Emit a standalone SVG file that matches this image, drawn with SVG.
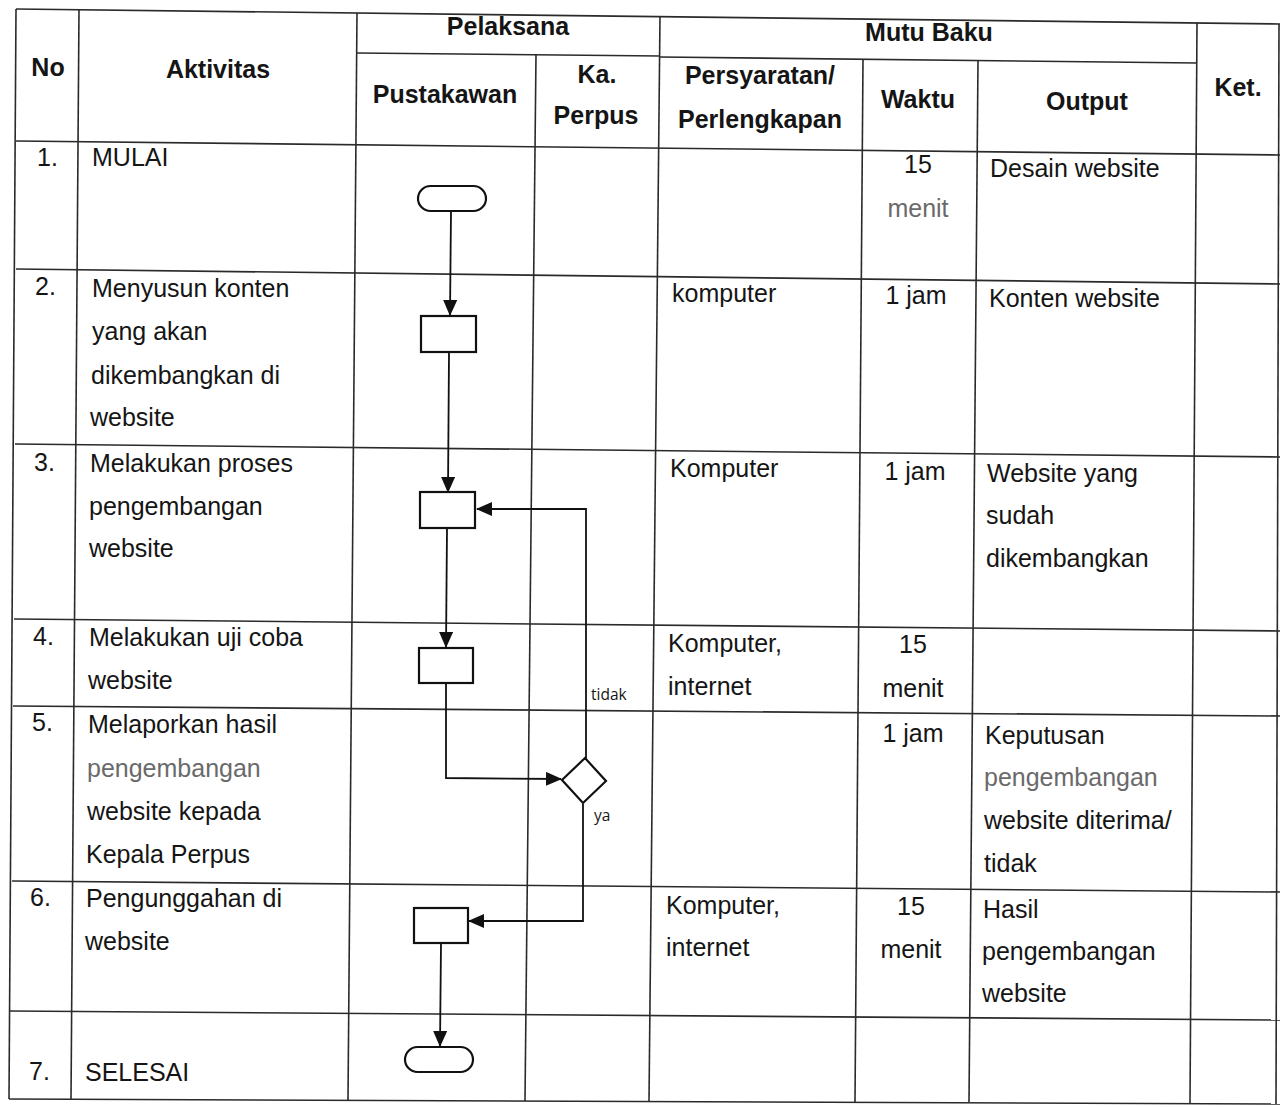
<svg xmlns="http://www.w3.org/2000/svg" width="1281" height="1107" viewBox="0 0 1281 1107">
<defs>
<style>
.grid line{stroke:#2a2a2a;stroke-width:1.6;fill:none}
.h{font-family:"Liberation Sans",Arial,sans-serif;font-size:25px;font-weight:bold;fill:#151515;text-anchor:middle}
.t{font-family:"Liberation Sans",Arial,sans-serif;font-size:25px;fill:#151515}
.c{text-anchor:middle}
.g{fill:#6a6a6a}
.lbl{font-family:"Open Sans",sans-serif;font-size:15.5px;fill:#151515}
.shape{fill:#fff;stroke:#111;stroke-width:2.2}
.conn{fill:none;stroke:#111;stroke-width:1.8}
</style>
<marker id="ah" viewBox="0 0 16 14" refX="15" refY="7" markerWidth="16" markerHeight="14" markerUnits="userSpaceOnUse" orient="auto">
<path d="M0,0 L16,7 L0,14 Z" fill="#111"/>
</marker>
</defs>
<rect width="1281" height="1107" fill="#fff"/>
<g id="table-grid" class="grid">
<line x1="16" y1="9" x2="1280" y2="24"/>
<line x1="357" y1="53" x2="660" y2="56"/>
<line x1="660" y1="57" x2="1197" y2="63"/>
<line x1="16" y1="141" x2="1280" y2="155"/>
<line x1="16" y1="269" x2="1280" y2="284"/>
<line x1="15" y1="444" x2="1280" y2="457"/>
<line x1="14" y1="619" x2="1280" y2="631"/>
<line x1="13" y1="706" x2="1280" y2="716"/>
<line x1="12" y1="881" x2="1280" y2="892"/>
<line x1="10" y1="1011" x2="1280" y2="1020"/>
<line x1="9" y1="1099" x2="1280" y2="1104"/>
<line x1="16" y1="9" x2="9" y2="1099"/>
<line x1="79" y1="10" x2="71" y2="1099"/>
<line x1="357" y1="13" x2="348" y2="1100"/>
<line x1="536" y1="55" x2="525" y2="1101"/>
<line x1="660" y1="16" x2="649" y2="1101"/>
<line x1="863" y1="60" x2="855" y2="1102"/>
<line x1="978" y1="61" x2="969" y2="1102"/>
<line x1="1197" y1="23" x2="1190" y2="1103"/>
<line x1="1279" y1="24" x2="1276" y2="1104"/>
</g>
<g id="header">
<text class="h" x="48" y="76">No</text>
<text class="h" x="218" y="78">Aktivitas</text>
<text class="h" x="508" y="35">Pelaksana</text>
<text class="h" x="929" y="41">Mutu Baku</text>
<text class="h" x="445" y="103">Pustakawan</text>
<text class="h" x="597" y="83">Ka.</text>
<text class="h" x="596" y="124">Perpus</text>
<text class="h" x="760" y="84">Persyaratan/</text>
<text class="h" x="760" y="128">Perlengkapan</text>
<text class="h" x="918" y="108">Waktu</text>
<text class="h" x="1087" y="110">Output</text>
<text class="h" x="1238" y="96">Ket.</text>
</g>
<g id="row1">
<text class="t" x="37" y="166">1.</text>
<text class="t" x="92" y="166">MULAI</text>
<text class="t c" x="918" y="173">15</text>
<text class="t c g" x="918" y="217">menit</text>
<text class="t" x="990" y="177">Desain website</text>
</g>
<g id="row2">
<text class="t" x="35" y="295">2.</text>
<text class="t" x="92" y="297">Menyusun konten</text>
<text class="t" x="92" y="340">yang akan</text>
<text class="t" x="91" y="384">dikembangkan di</text>
<text class="t" x="90" y="426">website</text>
<text class="t" x="672" y="302">komputer</text>
<text class="t c" x="916" y="304">1 jam</text>
<text class="t" x="989" y="307">Konten website</text>
</g>
<g id="row3">
<text class="t" x="34" y="471">3.</text>
<text class="t" x="90" y="472">Melakukan proses</text>
<text class="t" x="89" y="515">pengembangan</text>
<text class="t" x="89" y="557">website</text>
<text class="t" x="670" y="477">Komputer</text>
<text class="t c" x="915" y="480">1 jam</text>
<text class="t" x="987" y="482">Website yang</text>
<text class="t" x="986" y="524">sudah</text>
<text class="t" x="986" y="567">dikembangkan</text>
</g>
<g id="row4">
<text class="t" x="33" y="645">4.</text>
<text class="t" x="89" y="646">Melakukan uji coba</text>
<text class="t" x="88" y="689">website</text>
<text class="t" x="668" y="652">Komputer,</text>
<text class="t" x="668" y="695">internet</text>
<text class="t c" x="913" y="653">15</text>
<text class="t c" x="913" y="697">menit</text>
</g>
<g id="row5">
<text class="t" x="32" y="731">5.</text>
<text class="t" x="88" y="733">Melaporkan hasil</text>
<text class="t g" x="87" y="777">pengembangan</text>
<text class="t" x="87" y="820">website kepada</text>
<text class="t" x="86" y="863">Kepala Perpus</text>
<text class="t c" x="913" y="742">1 jam</text>
<text class="t" x="985" y="744">Keputusan</text>
<text class="t g" x="984" y="786">pengembangan</text>
<text class="t" x="984" y="829">website diterima/</text>
<text class="t" x="984" y="872">tidak</text>
</g>
<g id="row6">
<text class="t" x="30" y="906">6.</text>
<text class="t" x="86" y="907">Pengunggahan di</text>
<text class="t" x="85" y="950">website</text>
<text class="t" x="666" y="914">Komputer,</text>
<text class="t" x="666" y="956">internet</text>
<text class="t c" x="911" y="915">15</text>
<text class="t c" x="911" y="958">menit</text>
<text class="t" x="983" y="918">Hasil</text>
<text class="t" x="982" y="960">pengembangan</text>
<text class="t" x="982" y="1002">website</text>
</g>
<g id="row7">
<text class="t" x="29" y="1080">7.</text>
<text class="t" x="85" y="1081">SELESAI</text>
</g>
<g id="connectors">
<path class="conn" d="M451,212 L450,315" marker-end="url(#ah)"/>
<path class="conn" d="M449,353 L448,492" marker-end="url(#ah)"/>
<path class="conn" d="M447,529 L446,647" marker-end="url(#ah)"/>
<path class="conn" d="M446,684 L446,778 L561,779" marker-end="url(#ah)"/>
<path class="conn" d="M586,759 L586,509 L477,509" marker-end="url(#ah)"/>
<path class="conn" d="M583,804 L583,921 L469,921" marker-end="url(#ah)"/>
<path class="conn" d="M441,944 L440,1046" marker-end="url(#ah)"/>
<text class="lbl" x="591" y="700">tidak</text>
<text class="lbl" x="594" y="821">ya</text>
</g>
<g id="n-mulai"><rect class="shape" x="418" y="186" width="68" height="25" rx="12.5"/></g>
<g id="n-menyusun"><rect class="shape" x="421" y="316" width="55" height="36"/></g>
<g id="n-pengembangan"><rect class="shape" x="420" y="492" width="55" height="36"/></g>
<g id="n-ujicoba"><rect class="shape" x="419" y="648" width="54" height="35"/></g>
<g id="n-keputusan"><polygon class="shape" points="562,780 585,758 606,781 583,803"/></g>
<g id="n-unggah"><rect class="shape" x="414" y="908" width="54" height="35"/></g>
<g id="n-selesai"><rect class="shape" x="405" y="1047" width="68" height="25" rx="12.5"/></g>
</svg>
